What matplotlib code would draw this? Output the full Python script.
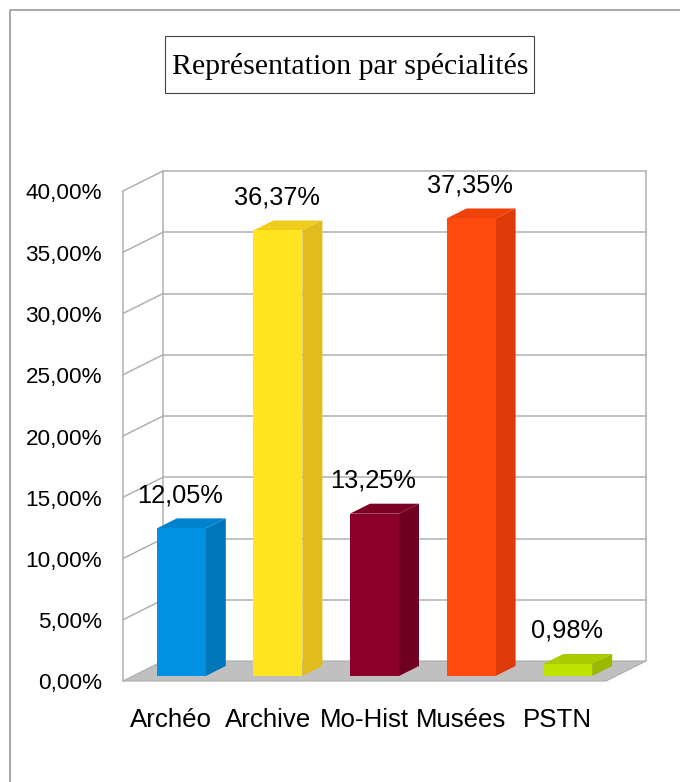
import matplotlib
matplotlib.use("Agg")
import matplotlib.pyplot as plt
from matplotlib.patches import Polygon, Rectangle
from matplotlib.lines import Line2D
from matplotlib.transforms import Affine2D, ScaledTranslation

categories = ["Archéo", "Archive", "Mo-Hist", "Musées", "PSTN"]
values = [12.05, 36.37, 13.25, 37.35, 0.98]
value_labels = ["12,05%", "36,37%", "13,25%", "37,35%", "0,98%"]
y_ticks = [0, 5, 10, 15, 20, 25, 30, 35, 40]
y_tick_labels = ["0,00%", "5,00%", "10,00%", "15,00%", "20,00%", "25,00%", "30,00%", "35,00%", "40,00%"]
front_colors = ["#0091E3", "#FFE41F", "#8B0028", "#FF4A0D", "#BFE300"]
side_colors = ["#0076BA", "#E0BC1C", "#6E0020", "#DF3A0A", "#9AB800"]
top_colors = ["#0083CD", "#F0CC1C", "#7C0024", "#EF420B", "#ABCC00"]
title = "Représentation par spécialités"

W, H = 680, 782
GRID = "#B0B0B0"
FLOOR = "#C0C0C0"
DX, DY = 40, 20      # full depth of the chart box, pixels
BAR_W = 0.507

plt.rcParams["font.family"] = ["Liberation Sans", "DejaVu Sans"]
fig = plt.figure(figsize=(W / 100, H / 100), dpi=100, facecolor="white")

# outer frame
fig.add_artist(Line2D([10 / W, 10 / W, 1], [0, 1 - 10 / H, 1 - 10 / H],
                      transform=fig.transFigure, color="#A0A0A0", lw=1.3))

ax = fig.add_axes([123 / W, (H - 681) / H, 483 / W, 490 / H])
ax.set_xlim(0, 5)
ax.set_ylim(0, 40)
ax.patch.set_visible(False)
for s in ax.spines.values():
    s.set_visible(False)

def shifted(dx, dy):
    return ax.transData + Affine2D().translate(dx, dy)

back = shifted(DX, DY)

# floor
f0 = ax.transData.transform((0, 0))
f1 = ax.transData.transform((5, 0))
floor = Polygon([f0, f1, f1 + (DX, DY), f0 + (DX, DY)], closed=True, transform=None,
                facecolor=FLOOR, edgecolor="#ABABAB", lw=0.8, clip_on=False, zorder=1)
ax.add_artist(floor)

# walls
ax.plot([0, 0], [0, 40], color=GRID, lw=1.1, clip_on=False, zorder=2)
ax.plot([5, 5], [0, 40], color=GRID, lw=1.1, clip_on=False, zorder=2, transform=back)
ax.plot([0, 0], [0, 40], color=GRID, lw=1.1, clip_on=False, zorder=2, transform=back)
for t in y_ticks:
    if t > 0:
        ax.plot([0, 5], [t, t], color=GRID, lw=1.1, clip_on=False, zorder=2, transform=back)
        p0 = ax.transData.transform((0, t))
        ax.add_artist(Line2D([p0[0], p0[0] + DX], [p0[1], p0[1] + DY], transform=None,
                             color=GRID, lw=1.1, zorder=2, clip_on=False))

# bars
front = shifted(DX / 4, DY / 4)
for i, v in enumerate(values):
    x0, x1 = i + 0.5 - BAR_W / 2, i + 0.5 + BAR_W / 2
    ax.bar(i + 0.5, v, width=BAR_W, color=front_colors[i], transform=front, clip_on=False, zorder=4)
    a = front.transform((x0, v))
    b = front.transform((x1, v))
    c = front.transform((x1, 0))
    d = (DX / 2, DY / 2)
    ax.add_artist(Polygon([a, b, b + d, a + d], closed=True, transform=None,
                          facecolor=top_colors[i], edgecolor="none", clip_on=False, zorder=3))
    ax.add_artist(Polygon([b, c, c + d, b + d], closed=True, transform=None,
                          facecolor=side_colors[i], edgecolor="none", clip_on=False, zorder=3))
    ax.annotate(value_labels[i], xy=(i + 0.5, v), xycoords=front,
                xytext=(-1 * 0.72, 33 * 0.72), textcoords="offset points",
                ha="center", va="center", fontsize=18.3, color="black", zorder=5)

ax.set_xticks([i + 0.5 for i in range(len(categories))], categories)
ax.set_yticks(y_ticks, y_tick_labels)
ax.tick_params(axis="y", length=0, pad=15, labelsize=16.2, labelcolor="black")
ax.tick_params(axis="x", length=0, pad=19.5, labelsize=18.6, labelcolor="black")
for lab in ax.get_yticklabels():
    lab.set_transform(lab.get_transform() + ScaledTranslation(0, -0.5 / 100, fig.dpi_scale_trans))

# title box
fig.text(350 / W, 1 - 66 / H, title, family=["Liberation Serif", "DejaVu Serif"], fontsize=21.5,
         ha="center", va="center", color="black")
fig.add_artist(Rectangle((165 / W, 1 - 93 / H), 369 / W, 57 / H, transform=fig.transFigure,
                         facecolor="none", edgecolor="#444444", lw=0.8))

fig.savefig("out.png", dpi=100)
